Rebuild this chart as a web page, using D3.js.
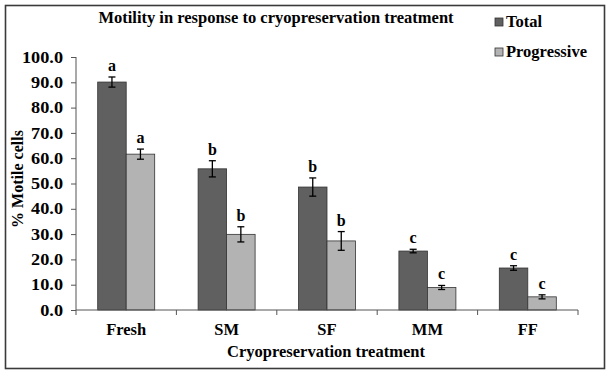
<!DOCTYPE html>
<html><head><meta charset="utf-8">
<script src="https://cdn.jsdelivr.net/npm/d3@7"></script>
<style>body{margin:0;background:#fff}svg{display:block}text{font-family:"Liberation Serif","Times New Roman",serif;font-weight:bold;fill:#000}</style>
</head><body>
<script>
const categories = ["Fresh","SM","SF","MM","FF"];
const seriesNames = ["Total","Progressive"];
const totalValues = [90.1, 55.8, 48.6, 23.3, 16.6];
const totalErrors = [2.0, 3.2, 3.6, 0.7, 0.9];
const progressiveValues = [61.6, 29.9, 27.3, 8.9, 5.2];
const progressiveErrors = [2.0, 3.0, 3.7, 0.8, 0.8];
const totalLetters = ["a","b","b","c","c"];
const progressiveLetters = ["a","b","b","c","c"];
const yTicks = [0,10,20,30,40,50,60,70,80,90,100];
const colors = ["#606060","#b3b3b3"];

const W=612,H=376;
const svg=d3.select("body").append("svg").attr("width",W).attr("height",H);
svg.append("rect").attr("x",5.5).attr("y",5.5).attr("width",599).attr("height",363)
  .attr("fill","#fff").attr("stroke","#3a3a3a").attr("stroke-width",1.6);

const y=d3.scaleLinear().domain([0,100]).range([310,57]);
const x0=d3.scaleBand().domain(categories).range([76,578]);
const groupW=57;
const x1=d3.scaleBand().domain(seriesNames).range([0,groupW]);

const data=[];
categories.forEach((c,i)=>{
  data.push({c,s:"Total",v:totalValues[i],e:totalErrors[i],l:totalLetters[i],col:colors[0]});
  data.push({c,s:"Progressive",v:progressiveValues[i],e:progressiveErrors[i],l:progressiveLetters[i],col:colors[1]});
});
const bx=d=>x0(d.c)+(x0.bandwidth()-groupW)/2+x1(d.s);

svg.selectAll("rect.bar").data(data).join("rect").attr("class","bar")
  .attr("x",d=>bx(d)).attr("y",d=>y(d.v)).attr("width",x1.bandwidth()).attr("height",d=>y(0)-y(d.v))
  .attr("fill",d=>d.col).attr("stroke","#333").attr("stroke-width",0.8);

const eb=svg.append("g").attr("stroke","#000").attr("stroke-width",1.3);
data.forEach(d=>{
  const cx=bx(d)+x1.bandwidth()/2;
  eb.append("line").attr("x1",cx).attr("x2",cx).attr("y1",y(d.v+d.e)).attr("y2",y(d.v-d.e));
  eb.append("line").attr("x1",cx-3.5).attr("x2",cx+3.5).attr("y1",y(d.v+d.e)).attr("y2",y(d.v+d.e));
  eb.append("line").attr("x1",cx-3.5).attr("x2",cx+3.5).attr("y1",y(d.v-d.e)).attr("y2",y(d.v-d.e));
});
svg.selectAll("text.lt").data(data).join("text").attr("class","lt")
  .attr("x",d=>bx(d)+x1.bandwidth()/2).attr("y",d=>y(d.v+d.e)-6)
  .attr("text-anchor","middle").attr("font-size",16).text(d=>d.l);

// y axis
const sx=1.14;
const ya=svg.append("g").attr("transform","translate(76,0)")
  .call(d3.axisLeft(y).tickValues(yTicks).tickSize(5).tickPadding(8).tickFormat(d3.format(".1f")));
ya.selectAll("text").attr("font-size",16).style("font-family","Liberation Serif").style("font-weight","bold").attr("fill","#000")
  .attr("x",-13/sx).attr("transform","scale("+sx+",1)");
ya.selectAll("line").attr("stroke","#555");
ya.select(".domain").attr("stroke","#555").attr("d","M-0,57V310");

// x axis
const xa=svg.append("g").attr("transform","translate(0,310)");
xa.append("line").attr("x1",76).attr("x2",578).attr("stroke","#555");
const bounds=categories.map(c=>x0(c)).concat([x0.range()[1]]);
xa.selectAll("line.t").data(bounds).join("line").attr("class","t")
  .attr("x1",d=>d).attr("x2",d=>d).attr("y1",0).attr("y2",5).attr("stroke","#555");
xa.selectAll("text").data(categories).join("text")
  .attr("x",d=>x0(d)+x0.bandwidth()/2).attr("y",25).attr("text-anchor","middle").attr("font-size",16.5).text(d=>d);

svg.append("text").attr("x",276).attr("y",23).attr("text-anchor","middle").attr("font-size",16.5)
  .text("Motility in response to cryopreservation treatment");
svg.append("text").attr("x",326).attr("y",357).attr("text-anchor","middle").attr("font-size",16.5)
  .text("Cryopreservation treatment");
svg.append("text").attr("transform","translate(23,179) rotate(-90)").attr("text-anchor","middle").attr("font-size",16)
  .text("% Motile cells");

// legend
seriesNames.forEach((s,i)=>{
  const ly=18+i*30;
  svg.append("rect").attr("x",495).attr("y",ly).attr("width",8).attr("height",8)
    .attr("fill",colors[i]).attr("stroke","#333").attr("stroke-width",0.8);
  svg.append("text").attr("x",506).attr("y",ly+9).attr("font-size",16.5).text(s);
});
</script>
</body></html>
